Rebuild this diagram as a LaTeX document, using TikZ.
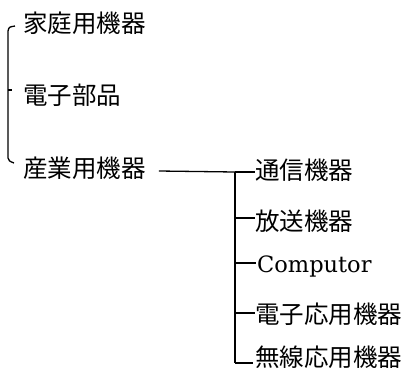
\documentclass[tikz,border=0pt]{standalone}
\usepackage{fontspec}
\newfontfamily\jp{Noto Sans CJK JP}
\newfontfamily\compfont{DejaVu Serif}
\usetikzlibrary{calc}
\begin{document}
\begin{tikzpicture}[x=1pt,y=-1pt,
  lbl/.style={anchor=west,inner sep=0pt,font=\jp\fontsize{24.5}{24.5}\selectfont},
  latinlbl/.style={anchor=base west,inner sep=0pt,font=\compfont\fontsize{22.5}{22.5}\selectfont},
  ln/.style={line width=1.3pt},
  bar/.style={line width=2pt},
  tick/.style={line width=1.1pt}]
\useasboundingbox (0,0) rectangle (405,376);
% left group
\node[lbl] (kat) at (23,23) {家庭用機器};
\node[lbl] (den) at (23,95) {電子部品};
\node[lbl] (san) at (23,168) {産業用機器};
% right group
\node[lbl] (tsu) at (255,170) {通信機器};
\node[lbl] (hou) at (255,221) {放送機器};
\node[latinlbl] (comp) at (257,272) {Computor};
\node[lbl] (eo) at (255,314) {電子応用機器};
\node[lbl] (mu) at (255,357) {無線応用機器};
% left bracket
\coordinate (bt) at ($(kat.west)+(-8,3)$);
\coordinate (bb) at ($(san.west)+(-9,-5)$);
\coordinate (bx) at ($(kat.west)+(-15,8)$);
\coordinate (by) at ($(san.west)+(-15,-10)$);
\draw[ln] (bt) .. controls ($(bx)+(1,-4)$) .. (bx) -- (by) .. controls ($(by)+(1,3)$) .. (bb);
\draw[ln] ($(den.west)+(-15,-5)$) -- ($(den.west)+(-11,-5)$);
% right tree
\coordinate (j) at ($(tsu.west)+(-20,2)$);
\coordinate (jb) at ($(j |- mu.west)+(0,6)$);
\draw[ln] ($(san.east)+(13,3)$) -- (j);
\draw[ln] (j) -- (j -| tsu.west);
\draw[bar] (j) -- (jb);
\draw[ln] (jb) -- ($(mu.west)+(-2,6)$);
\draw[tick] ($(j |- hou.west)+(0,-3)$) -- ($(hou.west)+(0,-3)$);
\draw[tick] ($(j |- comp.base west)+(0,-9)$) -- ($(comp.base west)+(-1,-9)$);
\draw[tick] ($(j |- eo.west)+(0,-1)$) -- ($(eo.west)+(0,-1)$);
\end{tikzpicture}
\end{document}
